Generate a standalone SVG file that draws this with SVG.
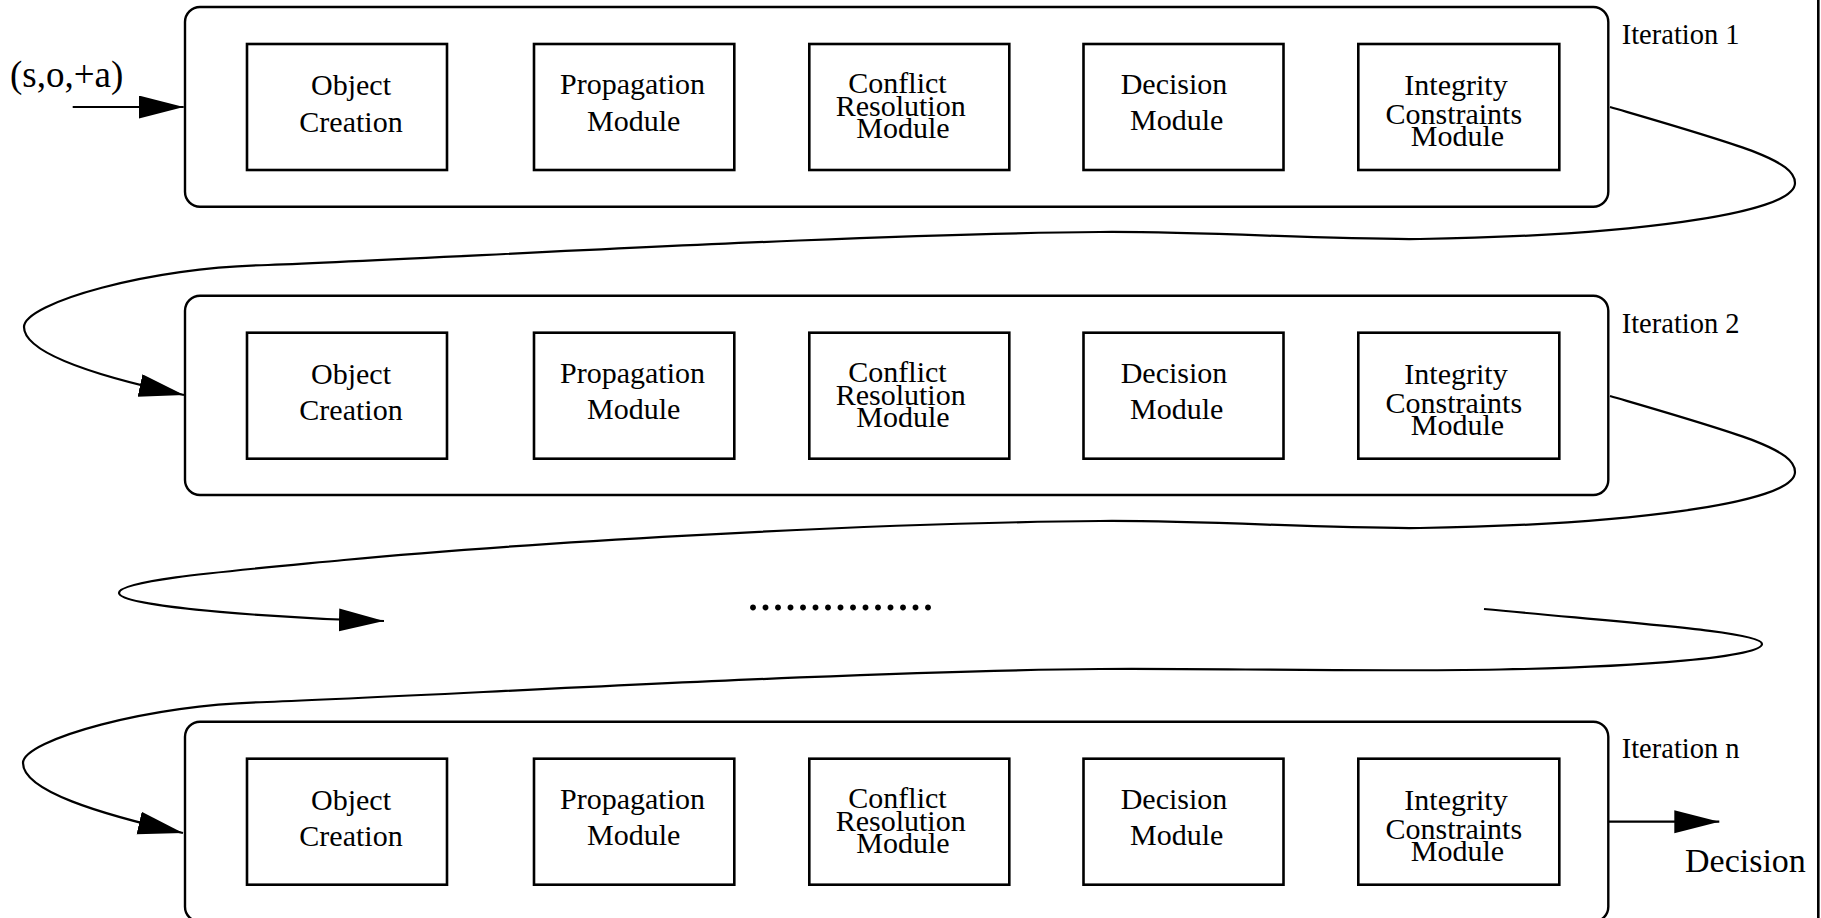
<svg xmlns="http://www.w3.org/2000/svg" width="1821" height="918" viewBox="0 0 1821 918">
<defs>
<style>
.iter{fill:#fff;stroke:#000;stroke-width:2.4}
.mod{fill:#fff;stroke:#000;stroke-width:2.6}
.t{font-family:"Liberation Serif","Times New Roman",serif;font-size:30px;fill:#000;text-anchor:middle}
.lbl{font-family:"Liberation Serif","Times New Roman",serif;fill:#000}
.c{fill:none;stroke:#000;stroke-width:2.2}
</style>
<marker id="ah" markerUnits="userSpaceOnUse" viewBox="0 0 46 24" markerWidth="46" markerHeight="24" refX="45" refY="11.5" orient="auto">
<path d="M0,0 L45,11.5 L0,23 Z" fill="#000"/>
</marker>
</defs>
<rect width="1821" height="918" fill="#fff"/>
<line x1="1818.3" y1="0" x2="1818.3" y2="918" stroke="#000" stroke-width="2.6"/>

<g id="iteration1">
<rect class="iter" x="185" y="7" width="1423.3" height="199.7" rx="15" ry="15"/>
<text class="lbl" x="1621.7" y="44.3" font-size="28.5">Iteration 1</text>
<g id="i1-object"><rect class="mod" x="247" y="44" width="200" height="126"/><text class="t" x="351" y="95">Object</text><text class="t" x="351" y="131.7">Creation</text></g>
<g id="i1-propagation"><rect class="mod" x="534" y="44" width="200.3" height="126"/><text class="t" x="632.5" y="94">Propagation</text><text class="t" x="633.7" y="130.7">Module</text></g>
<g id="i1-conflict"><rect class="mod" x="809.3" y="44" width="200" height="126"/><text class="t" x="897.5" y="93.3">Conflict</text><text class="t" x="900.7" y="116">Resolution</text><text class="t" x="903" y="138.3">Module</text></g>
<g id="i1-decision"><rect class="mod" x="1083.5" y="44" width="200" height="126"/><text class="t" x="1174" y="94">Decision</text><text class="t" x="1176.7" y="130">Module</text></g>
<g id="i1-integrity"><rect class="mod" x="1358.3" y="44" width="201" height="126"/><text class="t" x="1456" y="95">Integrity</text><text class="t" x="1453.8" y="124">Constraints</text><text class="t" x="1457.5" y="146">Module</text></g>
</g>

<g id="iteration2">
<rect class="iter" x="185" y="295.7" width="1423.3" height="199.3" rx="15" ry="15"/>
<text class="lbl" x="1621.7" y="332.7" font-size="28.5">Iteration 2</text>
<g id="i2-object"><rect class="mod" x="247" y="332.7" width="200" height="126"/><text class="t" x="351" y="383.7">Object</text><text class="t" x="351" y="420.4">Creation</text></g>
<g id="i2-propagation"><rect class="mod" x="534" y="332.7" width="200.3" height="126"/><text class="t" x="632.5" y="382.7">Propagation</text><text class="t" x="633.7" y="419.4">Module</text></g>
<g id="i2-conflict"><rect class="mod" x="809.3" y="332.7" width="200" height="126"/><text class="t" x="897.5" y="382">Conflict</text><text class="t" x="900.7" y="404.7">Resolution</text><text class="t" x="903" y="427">Module</text></g>
<g id="i2-decision"><rect class="mod" x="1083.5" y="332.7" width="200" height="126"/><text class="t" x="1174" y="382.7">Decision</text><text class="t" x="1176.7" y="418.7">Module</text></g>
<g id="i2-integrity"><rect class="mod" x="1358.3" y="332.7" width="201" height="126"/><text class="t" x="1456" y="383.7">Integrity</text><text class="t" x="1453.8" y="412.7">Constraints</text><text class="t" x="1457.5" y="434.7">Module</text></g>
</g>

<g id="iterationn">
<rect class="iter" x="185" y="721.7" width="1423.3" height="200" rx="15" ry="15"/>
<text class="lbl" x="1621.7" y="758.3" font-size="28.5">Iteration n</text>
<g id="in-object"><rect class="mod" x="247" y="758.7" width="200" height="126"/><text class="t" x="351" y="809.7">Object</text><text class="t" x="351" y="846.4">Creation</text></g>
<g id="in-propagation"><rect class="mod" x="534" y="758.7" width="200.3" height="126"/><text class="t" x="632.5" y="808.7">Propagation</text><text class="t" x="633.7" y="845.4">Module</text></g>
<g id="in-conflict"><rect class="mod" x="809.3" y="758.7" width="200" height="126"/><text class="t" x="897.5" y="808">Conflict</text><text class="t" x="900.7" y="830.7">Resolution</text><text class="t" x="903" y="853">Module</text></g>
<g id="in-decision"><rect class="mod" x="1083.5" y="758.7" width="200" height="126"/><text class="t" x="1174" y="808.7">Decision</text><text class="t" x="1176.7" y="844.7">Module</text></g>
<g id="in-integrity"><rect class="mod" x="1358.3" y="758.7" width="201" height="126"/><text class="t" x="1456" y="809.7">Integrity</text><text class="t" x="1453.8" y="838.7">Constraints</text><text class="t" x="1457.5" y="860.7">Module</text></g>
</g>

<g id="input">
<text class="lbl" x="10" y="87" font-size="37">(s,o,+a)</text>
</g>
<g id="output">
<text class="lbl" x="1685" y="871.7" font-size="34">Decision</text>
</g>
<g id="ellipsis">
<text class="lbl" x="746.8" y="609.5" font-size="50">...............</text>
</g>

<g id="connectors">
<path class="c" marker-end="url(#ah)" d="M72.7,107 H183.7"/>
<path class="c" marker-end="url(#ah)" d="M1610,107 C1740,145 1795,160 1795,183 C1795,215 1620,236 1420,239 C1330,240 1200,231 1100,232 C850,234 450,258 268,265 C150,267 24,303 24,327 C24,354 100,377 184,395"/>
<path class="c" marker-end="url(#ah)" d="M1610,396 C1740,434 1795,449 1795,472 C1795,504 1620,525 1420,528 C1330,529 1200,520 1100,521 C850,523 500,545 344,560 C230,571 119,580 119,593 C119,608 300,619 384,621"/>
<path class="c" marker-end="url(#ah)" d="M1484,609 C1640,624 1762,632 1762,644 C1762,657 1640,667 1500,669.5 C1350,672 1200,668 1100,669 C850,671 450,695 267,702 C150,704 23,740 23,763 C23,791 100,814 183,833"/>
<path class="c" marker-end="url(#ah)" d="M1609,821.7 H1719.3"/>
</g>
</svg>
